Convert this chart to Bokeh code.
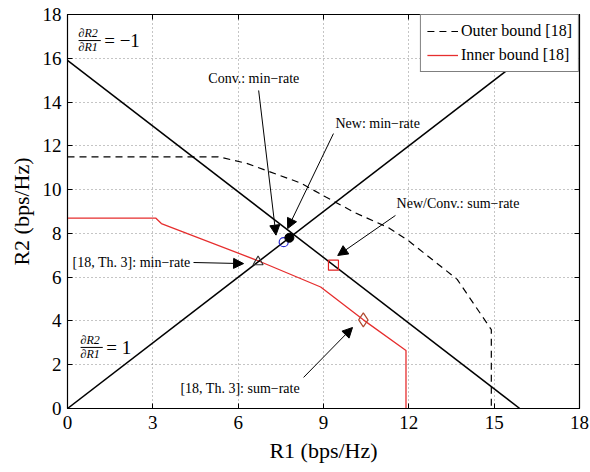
from bokeh.plotting import figure
from bokeh.models import (FixedTicker, LinearAxis, Label, Arrow, NormalHead, Legend, LegendItem, Range1d)
from bokeh.embed import file_html
from bokeh.resources import INLINE

# ---------------- data ----------------
x_ticks = [0, 3, 6, 9, 12, 15, 18]
y_ticks = [0, 2, 4, 6, 8, 10, 12, 14, 16, 18]

outer_r1 = [0, 5.3, 6.3, 8.2, 9.1, 10.1, 11.3, 12.0, 13.7, 14.9, 14.9]
outer_r2 = [11.5, 11.5, 11.2, 10.3, 9.65, 8.95, 8.25, 7.65, 5.9, 3.6, 0]

inner_r1 = [0, 3.1, 3.3, 6.7, 8.9, 10.4, 11.9, 11.9]
inner_r2 = [8.7, 8.7, 8.45, 6.75, 5.55, 4.05, 2.65, 0]

diag_r1 = [0, 18]          # dR2/dR1 = 1
diag_r2 = [0, 18]
anti_r1 = [0, 15.9]        # dR2/dR1 = -1
anti_r2 = [15.9, 0]

tri_pt = ([6.7], [6.7])        # [18, Th. 3]: min-rate
circ_pt = ([7.6], [7.6])       # Conv.: min-rate
dot_pt = ([7.8], [7.8])        # New: min-rate
sq_pt = ([9.35], [6.55])       # New/Conv.: sum-rate
dia_pt = ([10.4], [4.05])      # [18, Th. 3]: sum-rate

ann_text = ["Conv.: min\u2212rate", "New: min\u2212rate", "New/Conv.: sum\u2212rate",
            "[18, Th. 3]: min\u2212rate", "[18, Th. 3]: sum\u2212rate"]
ann_x = [4.95, 9.42, 11.57, 0.18, 3.97]
ann_y = [15.07, 13.02, 9.36, 6.67, 0.91]
arr_x0 = [6.72, 9.35, 11.53, 4.43, 8.3]
arr_y0 = [14.53, 12.56, 8.82, 6.67, 1.42]
arr_x1 = [7.33, 7.74, 9.5, 6.19, 10.02]
arr_y1 = [7.92, 8.22, 6.99, 6.62, 3.7]

FONT = "Liberation Serif"

p = figure(width=590, height=472, output_backend="svg", toolbar_location=None,
           x_range=Range1d(0, 18), y_range=Range1d(0, 18),
           min_border_left=67, min_border_right=11, min_border_top=14, min_border_bottom=64)
p.background_fill_color = "white"
p.border_fill_color = "white"
p.outline_line_color = "black"
p.outline_line_width = 1.2

for ax, tk in ((p.xaxis, x_ticks), (p.yaxis, y_ticks)):
    ax.ticker = FixedTicker(ticks=tk)
    ax.major_tick_in = 5
    ax.major_tick_out = 0
    ax.minor_tick_line_color = None
    ax.axis_line_color = "black"
    ax.major_label_text_font = FONT
    ax.major_label_text_font_size = "19px"
    ax.major_label_text_color = "black"
    ax.axis_label_text_font = FONT
    ax.axis_label_text_font_size = "22px"
    ax.axis_label_text_font_style = "normal"
    ax.axis_label_text_color = "black"
p.xaxis.axis_label = "R1 (bps/Hz)"
p.yaxis.axis_label = "R2 (bps/Hz)"
p.xaxis.major_label_standoff = 7
p.yaxis.major_label_standoff = 6
p.xaxis.axis_label_standoff = 6
p.yaxis.axis_label_standoff = 6

for loc, tk in (("right", y_ticks), ("above", x_ticks)):
    a = LinearAxis(ticker=FixedTicker(ticks=tk), major_tick_in=5, major_tick_out=0,
                   minor_tick_line_color=None, major_label_text_font_size="1px",
                   major_label_text_color=None, major_label_text_alpha=0,
                   major_label_standoff=0, axis_line_color="black")
    p.add_layout(a, loc)

p.grid.grid_line_color = "#8a8a8a"
p.grid.grid_line_dash = "1 3"
p.grid.grid_line_width = 1
p.xgrid.ticker = FixedTicker(ticks=x_ticks)
p.ygrid.ticker = FixedTicker(ticks=y_ticks)

r_outer = p.line(outer_r1, outer_r2, line_color="black", line_dash="7 5", line_width=1.2)
r_inner = p.line(inner_r1, inner_r2, line_color="#e62e2e", line_width=1.3)
p.line(diag_r1, diag_r2, line_color="black", line_width=1.5)
p.line(anti_r1, anti_r2, line_color="black", line_width=1.5)

p.scatter(*tri_pt, marker="triangle", size=10, fill_color=None, line_color="#333333", line_width=1.2)
p.scatter(*circ_pt, marker="circle", size=9, fill_color=None, line_color="#2a2ad0", line_width=1.2)
p.scatter(*dot_pt, marker="circle", size=9, fill_color="black", line_color="black")
p.scatter(*sq_pt, marker="square", size=10, fill_color=None, line_color="#e02020", line_width=1.2)
p.scatter(*dia_pt, marker="diamond", size=14, fill_color=None, line_color="#b04a30", line_width=1.2)

for t, x, y, x0, y0, x1, y1 in zip(ann_text, ann_x, ann_y, arr_x0, arr_y0, arr_x1, arr_y1):
    p.add_layout(Label(x=x, y=y, text=t, text_font=FONT, text_font_size="14px",
                       text_baseline="middle", text_align="left", text_color="black"))
    p.add_layout(Arrow(x_start=x0, y_start=y0, x_end=x1, y_end=y1, line_width=1, line_color="black",
                       end=NormalHead(size=10, fill_color="black", line_color="black", line_width=1)))

# slope labels  dR2/dR1 = -1  and  dR2/dR1 = 1
frac_x = [0.39, 0.46]
frac_bar_y = [16.81, 2.79]
frac_rhs = ["= \u22121", "= 1"]
for fx, fy, rhs in zip(frac_x, frac_bar_y, frac_rhs):
    p.add_layout(Label(x=fx, y=fy + 0.33, text="\u2202R2", text_font=FONT, text_font_style="italic",
                       text_font_size="12px", text_baseline="middle", text_color="black"))
    p.add_layout(Label(x=fx, y=fy - 0.31, text="\u2202R1", text_font=FONT, text_font_style="italic",
                       text_font_size="12px", text_baseline="middle", text_color="black"))
    p.segment(x0=[fx], y0=[fy], x1=[fx + 0.78], y1=[fy], line_color="black", line_width=1)
    p.add_layout(Label(x=fx + 0.9, y=fy, text=rhs, text_font=FONT,
                       text_font_size="19px", text_baseline="middle", text_color="black"))

legend = Legend(items=[LegendItem(label="Outer bound [18]", renderers=[r_outer]),
                       LegendItem(label="Inner bound [18]", renderers=[r_inner])],
                location="top_right", margin=0, padding=6, spacing=4,
                glyph_width=31, glyph_height=20, label_height=20, label_standoff=3,
                label_text_font=FONT, label_text_font_size="16px", label_text_color="black",
                border_line_color="black", border_line_width=1.2, background_fill_color="white",
                background_fill_alpha=1)
p.add_layout(legend)

open("out.html", "w").write(file_html(p, INLINE))
